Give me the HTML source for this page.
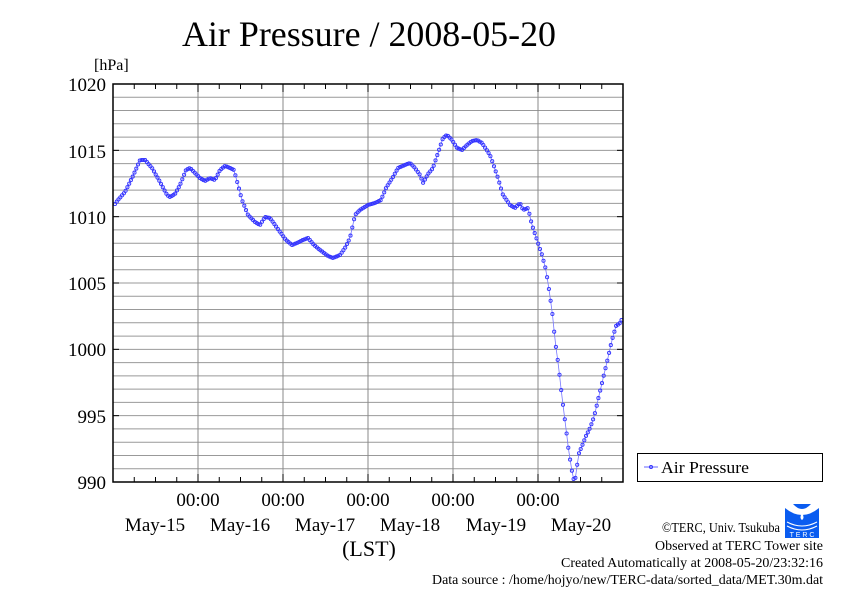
<!DOCTYPE html>
<html><head><meta charset="utf-8"><style>
body{margin:0;background:#fff}
svg{display:block;font-family:"Liberation Serif",serif}
</style></head><body>
<svg id="s" width="842" height="595" xmlns="http://www.w3.org/2000/svg">
<rect width="842" height="595" fill="#fff"/>
<text x="369" y="46" font-size="36" text-anchor="middle" textLength="374" lengthAdjust="spacingAndGlyphs">Air Pressure / 2008-05-20</text>
<text x="94" y="70" font-size="16">[hPa]</text>
<g id="grid"></g>
<g id="data"></g>
<rect x="113" y="84" width="510" height="398" fill="none" stroke="#000" stroke-width="1.5"/>
<g font-size="19" text-anchor="end">
<text x="106" y="91">1020</text><text x="106" y="158">1015</text><text x="106" y="224">1010</text>
<text x="106" y="290">1005</text><text x="106" y="356">1000</text><text x="106" y="423">995</text>
<text x="106" y="489">990</text></g>
<g font-size="19" text-anchor="middle">
<text x="198" y="506">00:00</text><text x="283" y="506">00:00</text><text x="368" y="506">00:00</text>
<text x="453" y="506">00:00</text><text x="538" y="506">00:00</text>
<text x="155" y="531">May-15</text><text x="240" y="531">May-16</text><text x="325" y="531">May-17</text>
<text x="410" y="531">May-18</text><text x="496" y="531">May-19</text><text x="581" y="531">May-20</text>
<text x="369" y="556" font-size="22">(LST)</text></g>
<rect x="637.5" y="453.5" width="185" height="28" fill="#fff" stroke="#000"/>
<line x1="644" y1="467" x2="658" y2="467" stroke="#6666ff"/>
<circle cx="651" cy="467" r="1.5" fill="none" stroke="#3333ff"/>
<text x="661" y="473" font-size="17" textLength="88" lengthAdjust="spacingAndGlyphs">Air Pressure</text>
<g font-size="13.5" text-anchor="end">
<text x="780" y="532" textLength="118" lengthAdjust="spacingAndGlyphs">©TERC, Univ. Tsukuba</text>
<text x="823" y="550" textLength="168" lengthAdjust="spacingAndGlyphs">Observed at TERC Tower site</text>
<text x="823" y="567" textLength="262" lengthAdjust="spacingAndGlyphs">Created Automatically at 2008-05-20/23:32:16</text>
<text x="823" y="584" textLength="391" lengthAdjust="spacingAndGlyphs">Data source : /home/hojyo/new/TERC-data/sorted_data/MET.30m.dat</text></g>
<g><rect x="785" y="504" width="34" height="34" fill="#0a5cf0"/>
<path d="M785 504 h8 q9 10 18 0 h8 v4 q-17 14 -34 0z" fill="#fff"/>
<path d="M802 513 q-3 5 0 7 q3 -2 0 -7z" fill="#fff"/>
<path d="M787 522 q15 8 30 0 M787 526 q15 8 30 0" stroke="#fff" fill="none"/>
<text x="802" y="537" font-size="7" fill="#fff" text-anchor="middle" font-family="Liberation Sans">T E R C</text></g>
</svg>
<script>
const NS="http://www.w3.org/2000/svg";
const g=document.getElementById('grid'),d=document.getElementById('data');
function el(t,a,p){const e=document.createElementNS(NS,t);for(const k in a)e.setAttribute(k,a[k]);p.appendChild(e);return e;}
const L=113,R=623,T=84,B=482,ppd=(R-L)/6;
for(let i=1;i<30;i++){const y=T+i*(B-T)/30;el('line',{x1:L,x2:R,y1:y,y2:y,stroke:'#999','stroke-width':1},g);
 if(i%5==0){el('line',{x1:L,x2:L+6,y1:y,y2:y,stroke:'#000'},g);el('line',{x1:R-6,x2:R,y1:y,y2:y,stroke:'#000'},g);}}
for(let i=1;i<6;i++){const x=L+i*ppd;el('line',{x1:x,x2:x,y1:T,y2:B,stroke:'#888'},g);}
for(let i=1;i<24;i++){const x=L+i*ppd/4;const h=i%4==0?8:5;el('line',{x1:x,x2:x,y1:T,y2:T+h,stroke:'#000'},g);el('line',{x1:x,x2:x,y1:B-h,y2:B,stroke:'#000'},g);}
const A=[[115,204],[118,200],[125,192],[133,176],[140,160],[145,160],[152,168],[160,182],[167,195],[170,197],[175,194],[180,185],[186,170],[190,168],[195,173],[200,178],[205,181],[210,178],[215,180],[220,170],[225,166],[230,168],[234,170],[238,185],[242,200],[248,215],[255,222],[260,225],[265,217],[270,218],[275,225],[280,232],[286,240],[292,245],[297,243],[303,240],[308,238],[314,245],[320,250],[328,256],[333,258],[340,255],[345,248],[350,238],[355,215],[360,210],[368,205],[375,203],[381,200],[386,188],[393,177],[398,168],[405,165],[410,163],[415,168],[420,175],[423,183],[428,174],[433,168],[438,153],[443,138],[447,135],[452,140],[457,148],[462,150],[467,145],[472,141],[477,140],[482,143],[490,155],[497,175],[503,195],[510,205],[515,208],[520,203],[523,210],[528,208],[532,225],[537,240],[542,255],[546,270],[549,290],[552,310],[555,340],[558,362],[561,388],[564,413],[567,437],[569,453],[571,465],[573,478],[575,481],[577,466],[579,453],[582,446],[586,436],[590,428],[594,417],[598,400],[602,383],[607,362],[612,340],[616,326],[620,323],[622,319]];
function yAt(x){for(let i=0;i<A.length-1;i++){if(x>=A[i][0]&&x<=A[i+1][0]){const t=(x-A[i][0])/(A[i+1][0]-A[i][0]);return A[i][1]+t*(A[i+1][1]-A[i][1]);}}return A[A.length-1][1];}
const pts=[];const step=ppd/48;
for(let x=115;x<=622.5;x+=step)pts.push([x,yAt(x)]);
el('polyline',{points:pts.map(p=>p[0].toFixed(1)+','+p[1].toFixed(1)).join(' '),fill:'none',stroke:'#7777ff','stroke-width':0.8},d);
pts.forEach(p=>el('circle',{cx:p[0].toFixed(1),cy:p[1].toFixed(1),r:1.6,fill:'none',stroke:'#3333ff','stroke-width':0.9},d));
</script>
</body></html>
